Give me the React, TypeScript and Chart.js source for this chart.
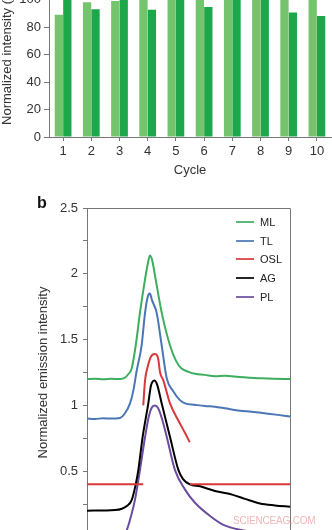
import React, { useEffect, useRef } from "react";
import { Chart, registerables } from "chart.js";

Chart.register(...registerables);

// ---------- Panel a (bar chart) ----------
const cycleLabels = ["1", "2", "3", "4", "5", "6", "7", "8", "9", "10"];
const lightSeries = [89, 98, 99, 102, 102, 101, 102, 103, 102, 103];
const darkSeries = [103, 93, 101, 92.5, 103, 94.5, 104, 101, 90.5, 88];
const barYTicks = { min: 0, max: 120, step: 20 };

// ---------- Panel b (emission spectra) ----------
const seriesNames = ["ML", "TL", "OSL", "AG", "PL"];
const seriesColors = ["#3dae5e", "#4a76b5", "#d9383a", "#000000", "#6b4c9e"];

const mlPoints: [number, number][] = [
  [0, 1.2], [4, 1.203], [8, 1.198], [12, 1.202], [16.3, 1.2], [18.7, 1.21],
  [20.2, 1.235], [22, 1.28], [24, 1.455], [26.1, 1.705], [28.6, 1.96],
  [30, 2.08], [31, 2.14], [32, 2.11], [33.8, 1.96], [36.8, 1.705],
  [40.9, 1.455], [43.8, 1.34], [46.6, 1.28], [50, 1.255], [53.2, 1.24],
  [58, 1.232], [63, 1.222], [68, 1.225], [75, 1.215], [80, 1.21],
  [86, 1.206], [92, 1.203], [100, 1.2],
];
const tlPoints: [number, number][] = [
  [0, 0.9], [4, 0.897], [8, 0.902], [11.3, 0.9], [16.3, 0.905], [18.7, 0.94],
  [21.2, 1.015], [22.8, 1.11], [24.5, 1.265], [26.9, 1.455], [28.6, 1.705],
  [30, 1.83], [31, 1.85], [32, 1.8], [34.3, 1.705], [36.8, 1.455],
  [39.3, 1.205], [42.4, 1.11], [45.8, 1.04], [48.3, 1.015], [53, 1.005],
  [58.1, 0.995], [63, 0.99], [68, 0.978], [75.4, 0.96], [81, 0.952],
  [87.7, 0.94], [94, 0.928], [100, 0.915],
];
const oslPoints: [number, number | null][] = [
  [0, 0.4], [27.7, 0.4], [27.71, null],
  [27.72, 1.0], [28.6, 1.19], [30, 1.3], [31.5, 1.37], [33.5, 1.39],
  [35, 1.36], [36, 1.25], [37.6, 1.19], [40.9, 1.015], [45, 0.885],
  [48.3, 0.79], [50.6, 0.72], [50.65, null],
  [50.7, 0.4], [100, 0.4],
];
const agPoints: [number, number][] = [
  [0, 0.2], [13.8, 0.205], [17.2, 0.215], [19.6, 0.235], [22, 0.28],
  [24, 0.4], [25.3, 0.51], [27.4, 0.76], [30.2, 1.015], [31.5, 1.15],
  [33.2, 1.19], [34.5, 1.16], [36.8, 1.015], [40.9, 0.76], [45, 0.51],
  [47.3, 0.44], [50.7, 0.4], [55.7, 0.385], [63, 0.35], [71.9, 0.32],
  [77.8, 0.29], [85.2, 0.255], [92.6, 0.24], [100, 0.23],
];
const plPoints: [number, number][] = [
  [15.3, 0.0], [18.2, 0.02], [19.6, 0.053], [21.7, 0.16], [23.6, 0.28],
  [26.1, 0.51], [28.6, 0.76], [30.5, 0.92], [32, 0.985], [33.5, 1.0],
  [35, 0.98], [36.9, 0.9], [39.3, 0.76], [43.3, 0.51], [48.3, 0.36],
  [53.2, 0.26], [60.6, 0.16], [67.5, 0.09], [80.3, 0.04], [90.1, 0.02],
  [100, 0.01],
];
const lineSeries = [mlPoints, tlPoints, oslPoints, agPoints, plPoints];
const lineYTicks = { min: 0, max: 2.5, step: 0.25 };

const FONT = "'Liberation Sans', Arial, Helvetica, sans-serif";
const AXIS = "#777";
const TEXT = "#333";

const frameLines = {
  id: "frameLines",
  afterDraw(chart: any) {
    const { ctx, chartArea } = chart;
    ctx.save();
    ctx.strokeStyle = AXIS;
    ctx.lineWidth = 1;
    ctx.beginPath();
    ctx.moveTo(chartArea.left, chartArea.top + 0.5);
    ctx.lineTo(chartArea.right + 0.5, chartArea.top + 0.5);
    ctx.lineTo(chartArea.right + 0.5, chartArea.bottom);
    ctx.stroke();
    ctx.restore();
  },
};

export default function App() {
  const barRef = useRef<HTMLCanvasElement>(null);
  const lineRef = useRef<HTMLCanvasElement>(null);

  useEffect(() => {
    Chart.defaults.font.family = FONT;
    Chart.defaults.color = TEXT;

    const bar = new Chart(barRef.current!, {
      type: "bar",
      data: {
        labels: cycleLabels,
        datasets: [
          { data: lightSeries, backgroundColor: "#74c46e", categoryPercentage: 0.6, barPercentage: 0.98 },
          { data: darkSeries, backgroundColor: "#1da64a", categoryPercentage: 0.6, barPercentage: 0.98 },
        ],
      },
      options: {
        responsive: false,
        animation: false,
        devicePixelRatio: 1,
        layout: { padding: { top: 12, right: 1, left: 0, bottom: 0 } },
        plugins: { legend: { display: false }, tooltip: { enabled: false } },
        scales: {
          x: {
            offset: true,
            grid: { offset: false, drawOnChartArea: false, tickLength: 4, color: AXIS },
            border: { color: AXIS },
            ticks: { font: { size: 13 }, padding: 3, color: TEXT },
            title: { display: true, text: "Cycle", font: { size: 13 }, padding: { top: 0, bottom: 4 }, color: TEXT },
            afterFit: (s: any) => { s.height = 45; },
          },
          y: {
            min: barYTicks.min,
            max: barYTicks.max,
            ticks: { stepSize: barYTicks.step, font: { size: 13 }, padding: 3, color: TEXT },
            grid: { drawOnChartArea: false, tickLength: 5, color: AXIS },
            border: { color: AXIS },
            title: { display: true, text: "Normalized intensity (%)", font: { size: 13 }, padding: { top: 0, bottom: 0 }, color: TEXT },
            afterFit: (s: any) => { s.width = 49; },
          },
        },
      },
    });

    const line = new Chart(lineRef.current!, {
      type: "line",
      data: {
        datasets: lineSeries.map((pts, i) => ({
          label: seriesNames[i],
          data: pts.map(([x, y]) => ({ x, y })),
          borderColor: seriesColors[i],
          borderWidth: 2,
          pointRadius: 0,
          cubicInterpolationMode: "monotone" as const,
          spanGaps: false,
          fill: false,
        })),
      },
      options: {
        responsive: false,
        animation: false,
        devicePixelRatio: 1,
        clip: false as any,
        layout: { padding: { top: 18, right: 42, left: 0, bottom: 0 } },
        plugins: { legend: { display: false }, tooltip: { enabled: false } },
        scales: {
          x: {
            type: "linear",
            min: 0,
            max: 100,
            ticks: { display: false },
            grid: { display: false },
            border: { color: AXIS },
            afterFit: (s: any) => { s.height = 20; },
          },
          y: {
            min: lineYTicks.min,
            max: lineYTicks.max,
            ticks: {
              stepSize: lineYTicks.step,
              autoSkip: false,
              font: { size: 13 },
              padding: 5,
              color: TEXT,
              callback: (v: any) => {
                const n = Number(v);
                return Math.abs(n * 2 - Math.round(n * 2)) < 1e-6 ? String(Number(n.toFixed(2))) : "";
              },
            },
            grid: { drawOnChartArea: false, tickLength: 4, color: AXIS },
            border: { color: AXIS },
            title: { display: true, text: "Normalized emission intensity", font: { size: 13 }, padding: { top: 36, bottom: 0 }, color: TEXT },
            afterFit: (s: any) => { s.width = 87; },
          },
        },
      },
      plugins: [frameLines],
    });

    return () => {
      bar.destroy();
      line.destroy();
    };
  }, []);

  return (
    <div style={{ position: "fixed", left: 0, top: 0, width: 332, height: 530, overflow: "hidden", background: "#fff", fontFamily: FONT }}>
      <canvas ref={barRef} width={332} height={222} style={{ position: "absolute", left: 0, top: -40, width: 332, height: 222 }} />
      <canvas ref={lineRef} width={332} height={367} style={{ position: "absolute", left: 0, top: 190, width: 332, height: 367 }} />
      <div style={{ position: "absolute", left: 37, top: 194.5, fontSize: 16, lineHeight: "16px", fontWeight: "bold", color: "#111" }}>b</div>
      {seriesNames.map((name, i) => (
        <div key={name} style={{ position: "absolute", left: 236, top: 221.7 + i * 18.8 - 7, height: 14, display: "flex", alignItems: "center" }}>
          <div style={{ width: 18, height: 2, background: seriesColors[i], opacity: 0.85 }} />
          <span style={{ marginLeft: 6, fontSize: 11, lineHeight: "14px", color: "#222" }}>{name}</span>
        </div>
      ))}
      <div style={{ position: "absolute", left: 233, top: 516, fontSize: 10, lineHeight: "10px", letterSpacing: "-0.2px", color: "#f2b6b6" }}>SCIENCEAG.COM</div>
    </div>
  );
}
